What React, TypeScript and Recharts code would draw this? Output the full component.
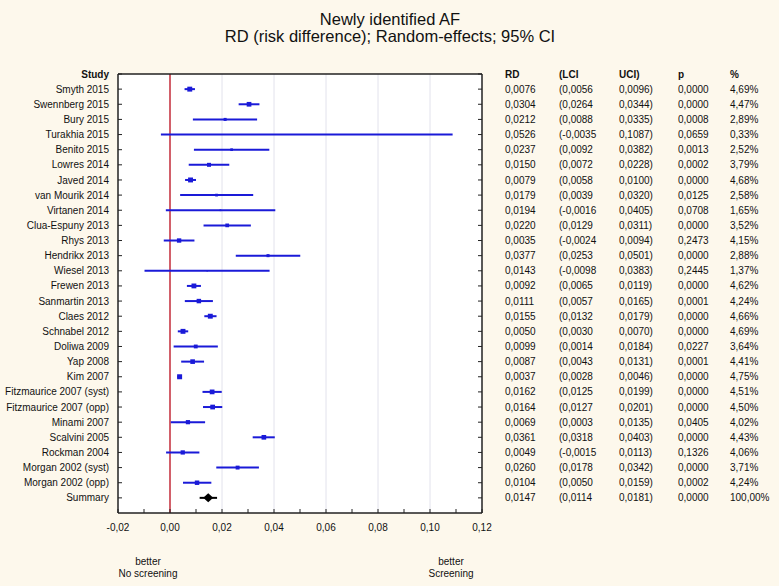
import React from 'react';
import {
  ScatterChart, Scatter, XAxis, YAxis, ErrorBar, ReferenceLine, CartesianGrid,
} from 'recharts';

const studies = [
  'Smyth 2015', 'Swennberg 2015', 'Bury 2015', 'Turakhia 2015', 'Benito 2015',
  'Lowres 2014', 'Javed 2014', 'van Mourik 2014', 'Virtanen 2014', 'Clua-Espuny 2013',
  'Rhys 2013', 'Hendrikx 2013', 'Wiesel 2013', 'Frewen 2013', 'Sanmartin 2013',
  'Claes 2012', 'Schnabel 2012', 'Doliwa 2009', 'Yap 2008', 'Kim 2007',
  'Fitzmaurice 2007 (syst)', 'Fitzmaurice 2007 (opp)', 'Minami 2007', 'Scalvini 2005',
  'Rockman 2004', 'Morgan 2002 (syst)', 'Morgan 2002 (opp)', 'Summary',
];
const rdValues = [
  0.0076, 0.0304, 0.0212, 0.0526, 0.0237, 0.0150, 0.0079, 0.0179, 0.0194, 0.0220,
  0.0035, 0.0377, 0.0143, 0.0092, 0.0111, 0.0155, 0.0050, 0.0099, 0.0087, 0.0037,
  0.0162, 0.0164, 0.0069, 0.0361, 0.0049, 0.0260, 0.0104, 0.0147,
];
const lciValues = [
  0.0056, 0.0264, 0.0088, -0.0035, 0.0092, 0.0072, 0.0058, 0.0039, -0.0016, 0.0129,
  -0.0024, 0.0253, -0.0098, 0.0065, 0.0057, 0.0132, 0.0030, 0.0014, 0.0043, 0.0028,
  0.0125, 0.0127, 0.0003, 0.0318, -0.0015, 0.0178, 0.0050, 0.0114,
];
const uciValues = [
  0.0096, 0.0344, 0.0335, 0.1087, 0.0382, 0.0228, 0.0100, 0.0320, 0.0405, 0.0311,
  0.0094, 0.0501, 0.0383, 0.0119, 0.0165, 0.0179, 0.0070, 0.0184, 0.0131, 0.0046,
  0.0199, 0.0201, 0.0135, 0.0403, 0.0113, 0.0342, 0.0159, 0.0181,
];
const pValues = [
  0.0, 0.0, 0.0008, 0.0659, 0.0013, 0.0002, 0.0, 0.0125, 0.0708, 0.0,
  0.2473, 0.0, 0.2445, 0.0, 0.0001, 0.0, 0.0, 0.0227, 0.0001, 0.0,
  0.0, 0.0, 0.0405, 0.0, 0.1326, 0.0, 0.0002, 0.0,
];
const weights = [
  4.69, 4.47, 2.89, 0.33, 2.52, 3.79, 4.68, 2.58, 1.65, 3.52,
  4.15, 2.88, 1.37, 4.62, 4.24, 4.66, 4.69, 3.64, 4.41, 4.75,
  4.51, 4.50, 4.02, 4.43, 4.06, 3.71, 4.24, 100.0,
];
const xTicks = [-0.02, -0.01, 0, 0.01, 0.02, 0.03, 0.04, 0.05, 0.06, 0.07, 0.08, 0.09, 0.1, 0.11, 0.12];
const gridTicks = [0.02, 0.04, 0.06, 0.08, 0.1];
const tableHeader = ['RD', '(LCI', 'UCI)', 'p', '%'];
const studyHeader = 'Study';

const rows = studies.map((name, i) => ({
  name, idx: i, rd: rdValues[i], lci: lciValues[i], uci: uciValues[i], p: pValues[i], w: weights[i],
}));
const studyRows = rows.slice(0, rows.length - 1);
const summaryRows = rows.slice(rows.length - 1);
const rowTicks = [-1, ...rows.map((r) => r.idx)];

const FONT = '"Liberation Sans", Arial, sans-serif';
const BLUE = '#1a1ad8';
const AXIS = '#222222';
const comma = (v: number, d: number) => v.toFixed(d).replace('.', ',');

const LeftTick = (props: any) => {
  const { x, y, payload } = props;
  const i = payload.value;
  const header = i < 0;
  return (
    <text x={x} y={y} dy="0.355em" textAnchor="end" fontSize={10} fontFamily={FONT}
      fill="#111" fontWeight={header ? 'bold' : 'normal'}>
      {header ? studyHeader : studies[i]}
    </text>
  );
};

const colOffsets = [23, 77, 137, 196, 248];

const RightTick = (props: any) => {
  const { x, y, payload } = props;
  const i = payload.value;
  const header = i < 0;
  const cells = header
    ? tableHeader
    : [comma(rdValues[i], 4), '(' + comma(lciValues[i], 4), comma(uciValues[i], 4) + ')',
      comma(pValues[i], 4), comma(weights[i], 2) + '%'];
  return (
    <g>
      {cells.map((c, k) => (
        <text key={k} x={x + colOffsets[k]} y={y} dy="0.355em" textAnchor="start" fontSize={10}
          fontFamily={FONT} fill="#111" fontWeight={header ? 'bold' : 'normal'}>
          {c}
        </text>
      ))}
    </g>
  );
};

const StudyMarker = (props: any) => {
  const { cx, cy, payload } = props;
  const s = payload.w * 1.05;
  return <rect x={cx - s / 2} y={cy - s / 2} width={s} height={s} fill={BLUE} />;
};

const SummaryMarker = (props: any) => {
  const { cx, cy } = props;
  return (
    <polygon points={`${cx - 5},${cy} ${cx},${cy - 4.5} ${cx + 5},${cy} ${cx},${cy + 4.5}`} fill="#000" />
  );
};

const xFmt = (v: number) => (Math.round(v * 100) % 2 === 0 ? comma(v, 2) : '');

export default function App() {
  return (
    <div style={{ position: 'absolute', left: 0, top: 0, width: 779, height: 586, background: '#FDF8EC' }}>
      <ScatterChart width={779} height={586} margin={{ top: 70, right: 277, bottom: 43, left: 0 }}>
        <CartesianGrid horizontal={false} vertical={false} fill="#ffffff" />
        <XAxis type="number" dataKey="rd" domain={[-0.02, 0.12]} ticks={xTicks} interval={0}
          allowDataOverflow tickFormatter={xFmt} tickSize={-4} tickMargin={15} height={30}
          axisLine={{ stroke: AXIS, strokeWidth: 1.5 }} tickLine={{ stroke: AXIS }}
          tick={{ fontSize: 10, fill: '#111', fontFamily: FONT }} />
        <XAxis xAxisId="top" orientation="top" type="number" domain={[-0.02, 0.12]} ticks={xTicks}
          interval={0} allowDataOverflow tick={false} tickSize={-4} height={4}
          axisLine={{ stroke: AXIS, strokeWidth: 1.5 }} tickLine={{ stroke: AXIS }} />
        <YAxis type="number" dataKey="idx" domain={[-1, 28]} reversed ticks={rowTicks} interval={0}
          allowDataOverflow width={118} tickSize={-4} tickMargin={13} tick={<LeftTick />}
          axisLine={{ stroke: AXIS, strokeWidth: 1.5 }} tickLine={{ stroke: AXIS }} />
        <YAxis yAxisId="right" orientation="right" type="number" domain={[-1, 28]} reversed
          ticks={rowTicks} interval={0} allowDataOverflow width={20} tickSize={-4} tickMargin={4}
          tick={<RightTick />} axisLine={{ stroke: AXIS, strokeWidth: 1.5 }} tickLine={{ stroke: AXIS }} />
        {gridTicks.map((g) => (
          <ReferenceLine key={g} x={g} stroke="#e2e2ec" strokeWidth={1} />
        ))}
        <ReferenceLine x={0} stroke="#d2606a" strokeWidth={2} />
        <Scatter data={studyRows} isAnimationActive={false} shape={<StudyMarker />}>
          <ErrorBar dataKey={(d: any) => [d.rd - d.lci, d.uci - d.rd]} direction="x" width={0}
            stroke={BLUE} strokeWidth={2} isAnimationActive={false} />
        </Scatter>
        <Scatter data={summaryRows} isAnimationActive={false} shape={<SummaryMarker />}>
          <ErrorBar dataKey={(d: any) => [d.rd - d.lci, d.uci - d.rd]} direction="x" width={0}
            stroke="#000" strokeWidth={2} isAnimationActive={false} />
        </Scatter>
      </ScatterChart>
      <svg width={779} height={586} style={{ position: 'absolute', left: 0, top: 0, pointerEvents: 'none' }}>
        <text x={390} y={25} textAnchor="middle" fontSize={16.5} fontFamily={FONT} fill="#111">
          Newly identified AF
        </text>
        <text x={390} y={42} textAnchor="middle" fontSize={16.5} fontFamily={FONT} fill="#111">
          RD (risk difference); Random-effects; 95% CI
        </text>
        <text x={148} y={565} textAnchor="middle" fontSize={10} fontFamily={FONT} fill="#111">better</text>
        <text x={148} y={577} textAnchor="middle" fontSize={10} fontFamily={FONT} fill="#111">No screening</text>
        <text x={451} y={565} textAnchor="middle" fontSize={10} fontFamily={FONT} fill="#111">better</text>
        <text x={451} y={577} textAnchor="middle" fontSize={10} fontFamily={FONT} fill="#111">Screening</text>
      </svg>
    </div>
  );
}
